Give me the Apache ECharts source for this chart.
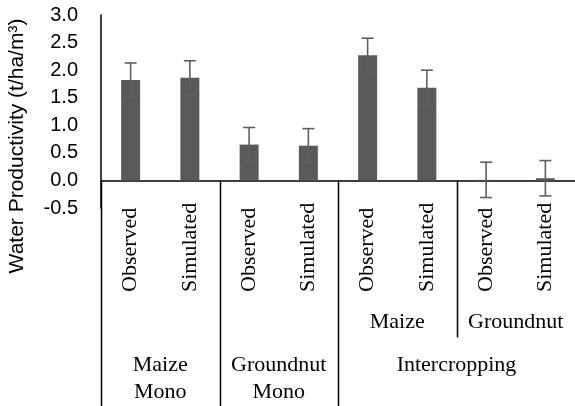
<!DOCTYPE html>
<html>
<head>
<meta charset="utf-8">
<script src="https://cdn.jsdelivr.net/npm/echarts@6/dist/echarts.min.js"></script>
<style>
html, body { margin: 0; padding: 0; background: #fff; }
#chart { width: 575px; height: 406px; }
</style>
</head>
<body>
<div id="chart"></div>
<script>
// bar categories (first level of the axis)
var treatments = ['Observed', 'Simulated', 'Observed', 'Simulated', 'Observed', 'Simulated', 'Observed', 'Simulated'];
// water productivity values and their error bars
var productivity = [1.82, 1.86, 0.65, 0.63, 2.27, 1.68, 0.01, 0.04];
var errors = [0.31, 0.31, 0.31, 0.31, 0.31, 0.32, 0.32, 0.32];
// second level: crops inside intercropping (first / last bar index)
var interLabels = ['Maize', 'Groundnut'];
var interSpans = [[4, 5], [6, 7]];
// third level: cropping systems
var systemLabels = ['Maize\nMono', 'Groundnut\nMono', 'Intercropping'];
var systemSpans = [[0, 1], [2, 3], [4, 7]];
// y axis ticks
var yMin = -0.5, yMax = 3.0, yStep = 0.5;

var chart = echarts.init(document.getElementById('chart'));

var option = {
  animation: false,
  grid: { left: 101, top: 15, width: 480, height: 193 },
  xAxis: {
    type: 'category',
    data: treatments,
    axisLine: { onZero: true, lineStyle: { color: '#000', width: 1.5 } },
    axisTick: { show: false },
    axisLabel: {
      interval: 0,
      rotate: 90,
      align: 'left',
      verticalAlign: 'middle',
      margin: 84,
      color: '#000',
      fontFamily: 'Liberation Serif',
      fontSize: 22
    }
  },
  yAxis: {
    type: 'value',
    min: yMin,
    max: yMax,
    interval: yStep,
    axisLine: { show: true, lineStyle: { color: '#000', width: 1.5 } },
    axisTick: { show: false },
    splitLine: { show: false },
    axisLabel: {
      margin: 23,
      color: '#000',
      fontFamily: 'Liberation Sans',
      fontSize: 20,
      formatter: function (v) { return v.toFixed(1); }
    }
  },
  series: [
    {
      type: 'bar',
      data: productivity,
      barWidth: '32%',
      itemStyle: { color: '#595959' }
    },
    {
      type: 'custom',
      data: productivity.map(function (v, i) { return [i, v, errors[i]]; }),
      renderItem: function (params, api) {
        var i = api.value(0), v = api.value(1), e = api.value(2);
        var top = api.coord([i, v + e]);
        var bot = api.coord([i, v - e]);
        var half = 6;
        var st = { stroke: '#5f5f5f', lineWidth: 1.6 };
        return {
          type: 'group',
          children: [
            { type: 'line', shape: { x1: top[0], y1: top[1], x2: bot[0], y2: bot[1] }, style: st },
            { type: 'line', shape: { x1: top[0] - half, y1: top[1], x2: top[0] + half, y2: top[1] }, style: st },
            { type: 'line', shape: { x1: bot[0] - half, y1: bot[1], x2: bot[0] + half, y2: bot[1] }, style: st }
          ]
        };
      },
      z: 3
    }
  ]
};
chart.setOption(option);

// group labels and separators, placed from the axis scales
var H = 406;
var yZero = chart.convertToPixel({ yAxisIndex: 0 }, 0);
function cx(i) { return chart.convertToPixel({ xAxisIndex: 0 }, i); }
var band = cx(1) - cx(0);
var lineStyle = { stroke: '#000', lineWidth: 1.5 };
var graphics = [];

// full-height separators at system boundaries
systemSpans.forEach(function (s) {
  var x = Math.round(cx(s[0]) - band / 2) + 0.5;
  graphics.push({ type: 'line', shape: { x1: x, y1: yZero, x2: x, y2: H }, style: lineStyle });
});
// separator between intercropped crops
interSpans.slice(1).forEach(function (s) {
  var x = Math.round(cx(s[0]) - band / 2) + 0.5;
  graphics.push({ type: 'line', shape: { x1: x, y1: yZero, x2: x, y2: yZero + 157 }, style: lineStyle });
});
interSpans.forEach(function (s, k) {
  graphics.push({
    type: 'text',
    style: {
      text: interLabels[k], x: (cx(s[0]) + cx(s[1])) / 2, y: yZero + 128,
      align: 'center', verticalAlign: 'top', lineHeight: 27,
      fontFamily: 'Liberation Serif', fontSize: 22, fill: '#000'
    }
  });
});
systemSpans.forEach(function (s, k) {
  graphics.push({
    type: 'text',
    style: {
      text: systemLabels[k], x: (cx(s[0]) + cx(s[1])) / 2, y: yZero + 171,
      align: 'center', verticalAlign: 'top', lineHeight: 27,
      fontFamily: 'Liberation Serif', fontSize: 22, fill: '#000'
    }
  });
});
// y axis title
graphics.push({
  type: 'text',
  x: 17, y: 146, rotation: Math.PI / 2,
  style: {
    text: 'Water Productivity (t/ha/m³)',
    align: 'center', verticalAlign: 'middle',
    fontFamily: 'Liberation Sans', fontSize: 21, fill: '#000'
  }
});
chart.setOption({ graphic: graphics });
</script>
</body>
</html>
